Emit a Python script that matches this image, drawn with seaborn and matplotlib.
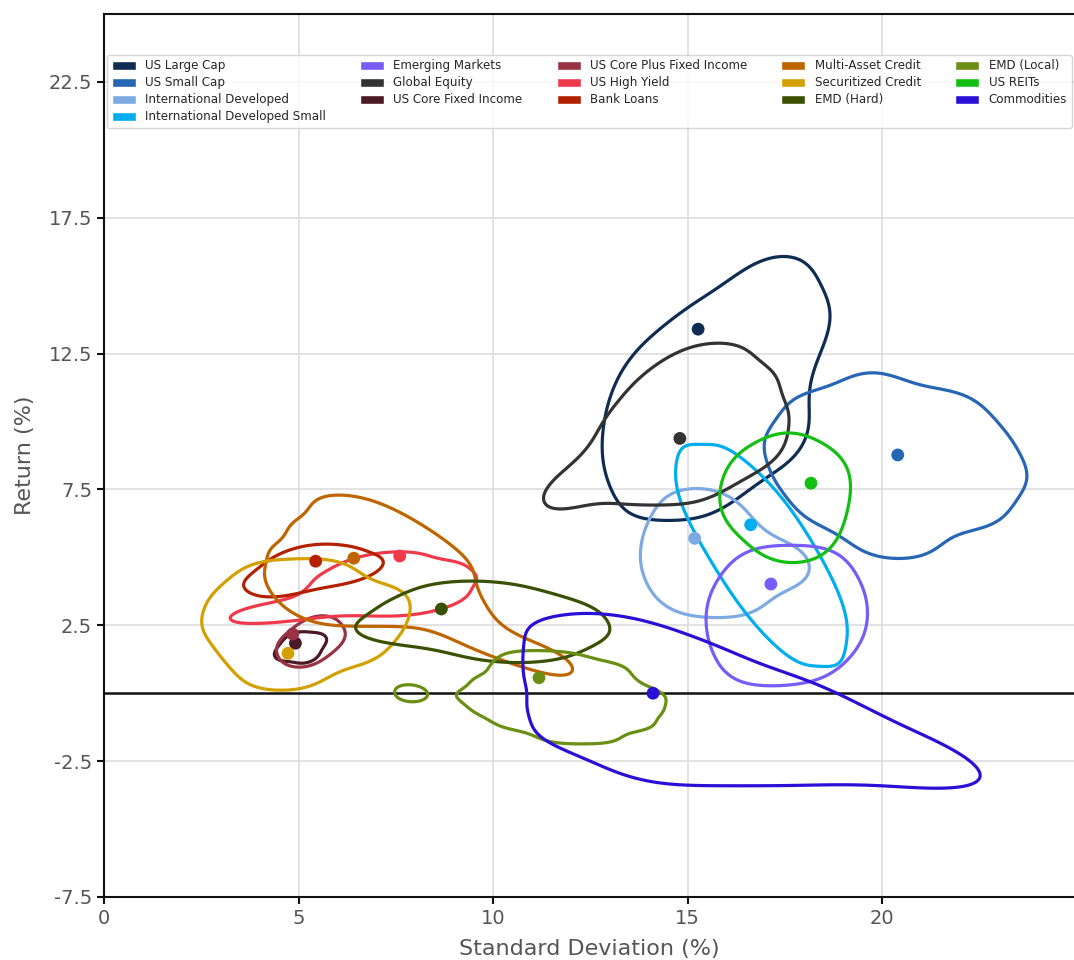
import numpy as np
import pandas as pd
import matplotlib
matplotlib.use("Agg")
import matplotlib.pyplot as plt
import matplotlib.patches as mpatches
import seaborn as sns

# Asset classes, colours and expected (standard deviation, return) in %
asset_names = [
    "US Large Cap", "US Small Cap", "International Developed",
    "International Developed Small", "Emerging Markets", "Global Equity",
    "US Core Fixed Income", "US Core Plus Fixed Income", "US High Yield",
    "Bank Loans", "Multi-Asset Credit", "Securitized Credit", "EMD (Hard)",
    "EMD (Local)", "US REITs", "Commodities",
]
asset_colors = [
    "#0f2d52", "#2766b4", "#7eaae3", "#00aeef", "#775cf7", "#333333",
    "#4b1a24", "#993344", "#f0394b", "#b32100", "#bf6500", "#d4a000",
    "#3a5003", "#6a8f12", "#12bf12", "#2a10d6",
]
expected_sd = [15.27, 20.40, 15.18, 16.62, 17.14, 14.80, 4.92, 4.85,
               7.60, 5.44, 6.42, 4.73, 8.67, 11.18, 18.17, 14.11]
expected_ret = [13.40, 8.77, 5.70, 6.20, 4.02, 9.38, 1.84, 2.18,
                5.05, 4.86, 4.97, 1.47, 3.10, 0.57, 7.73, 0.00]

# Scenario outcomes (sd %, return %) per asset class
us_large_cap = [
    (13.9, 7.6), (14.85, 7.6), (15.8, 7.6),
    (13.5, 8.95), (14.5, 8.95), (15.5, 8.95), (16.5, 8.95), (17.7, 9.2),
    (13.6, 10.45), (14.5, 10.45), (15.4, 10.45), (16.3, 10.45), (17.2, 10.45),
    (13.9, 11.95), (14.75, 11.95), (15.6, 11.95), (16.45, 11.95), (17.3, 11.95),
    (15.2, 13.45), (16.2, 13.45), (17.2, 13.45), (18.2, 13.45),
    (16.7, 14.95), (17.6, 14.95),
]
us_small_cap = [
    (19.8, 5.6), (20.9, 5.6),
    (18.4, 6.8), (19.5, 6.8), (20.6, 6.8), (21.7, 6.8), (22.6, 6.8),
    (17.8, 8.0), (18.9, 8.0), (20.0, 8.0), (21.1, 8.0), (22.2, 8.0), (23.2, 8.0),
    (17.5, 9.2), (18.6, 9.2), (19.7, 9.2), (20.8, 9.2), (21.8, 9.2), (22.7, 9.2),
    (18.1, 10.4), (19.1, 10.4), (20.1, 10.4), (21.1, 10.4), (22.0, 10.4),
    (19.8, 11.3),
]
intl_developed = [
    (14.8, 3.7), (15.6, 3.7), (16.35, 3.7),
    (14.5, 4.7), (15.3, 4.7), (16.1, 4.7), (16.9, 4.7), (17.6, 4.75),
    (14.6, 5.7), (15.4, 5.7), (16.2, 5.7),
    (14.95, 6.7), (15.75, 6.7),
]
intl_developed_small = [
    (15.35, 8.1), (16.2, 8.1),
    (15.3, 6.9), (16.2, 6.9), (17.1, 6.9),
    (15.8, 5.7), (16.7, 5.7), (17.6, 5.7),
    (16.3, 4.5), (17.2, 4.5), (18.1, 4.5),
    (16.8, 3.3), (17.7, 3.3), (18.5, 3.3),
    (17.6, 2.1), (18.4, 2.1),
]
emerging_markets = [
    (16.5, 1.2), (17.4, 1.2), (18.3, 1.35),
    (16.2, 2.3), (17.1, 2.3), (18.0, 2.3), (18.9, 2.3),
    (16.2, 3.4), (17.1, 3.4), (18.0, 3.4), (18.9, 3.4),
    (16.7, 4.5), (17.6, 4.5), (18.5, 4.5),
]
global_equity = [
    (13.6, 7.7), (14.55, 7.7), (15.5, 7.7),
    (13.1, 8.8), (14.05, 8.8), (15.0, 8.8), (15.95, 8.8), (16.9, 8.8),
    (13.4, 10.0), (14.3, 10.0), (15.2, 10.0), (16.1, 10.0), (17.0, 10.0),
    (14.1, 11.2), (15.0, 11.2), (15.9, 11.2), (16.7, 11.2),
    (15.0, 12.1), (15.9, 12.1),
    (11.75, 7.35), (12.6, 7.9),
]
us_core_fixed_income = [
    (4.7, 1.5), (5.05, 1.7), (5.4, 1.9), (4.95, 1.95), (5.2, 1.4),
]
us_core_plus_fixed_income = [
    (4.85, 1.85), (5.8, 1.95), (5.3, 2.35), (5.35, 1.45), (5.0, 1.5), (5.6, 2.3),
]
us_high_yield = [
    (6.3, 3.25), (7.2, 3.2), (8.1, 3.2), (8.6, 3.5),
    (5.8, 3.75), (6.7, 3.75), (7.6, 3.75), (8.4, 3.9), (8.75, 4.1),
    (6.1, 4.3), (7.0, 4.35), (7.9, 4.4), (8.5, 4.5),
    (6.8, 4.85), (7.6, 4.85),
    (3.8, 2.9), (4.6, 3.0), (5.3, 3.1),
]
bank_loans = [
    (4.3, 4.2), (4.8, 4.7), (5.4, 4.3), (5.9, 5.0),
    (6.4, 4.7), (4.6, 3.9), (5.2, 5.1), (6.2, 4.4),
]
multi_asset_credit = [
    (5.2, 3.1), (6.2, 3.1), (7.2, 3.1), (8.2, 3.1), (9.2, 3.1),
    (4.8, 4.0), (5.8, 4.0), (6.8, 4.0), (7.8, 4.0), (8.8, 4.0),
    (4.9, 4.9), (5.9, 4.9), (6.9, 4.9), (7.9, 4.9), (8.8, 4.9),
    (5.45, 5.75), (6.3, 5.8), (7.1, 5.8), (7.9, 5.8),
    (6.1, 6.6), (6.9, 6.6),
    (9.4, 2.2), (10.5, 1.6), (11.6, 1.1),
]
securitized_credit = [
    (4.1, 0.7), (5.1, 0.7),
    (3.6, 1.6), (4.6, 1.6), (5.6, 1.6), (6.6, 1.6),
    (3.1, 2.5), (4.1, 2.5), (5.1, 2.5), (6.1, 2.5), (7.1, 2.5),
    (3.3, 3.4), (4.3, 3.4), (5.3, 3.4), (6.3, 3.4), (7.3, 3.4),
    (4.0, 4.3), (5.0, 4.3), (5.9, 4.3),
]
emd_hard = [
    (9.9, 1.65), (11.1, 1.65),
    (7.3, 2.3), (8.5, 2.3), (9.7, 2.3), (10.9, 2.3), (12.0, 2.3),
    (8.1, 3.0), (9.3, 3.0), (10.5, 3.0), (11.7, 3.0),
    (9.0, 3.6), (10.2, 3.6),
]
emd_local = [
    (11.5, -1.6), (12.2, -1.6), (12.9, -1.6),
    (10.4, -1.1), (11.1, -1.1), (11.8, -1.1), (12.5, -1.1), (13.2, -1.1), (13.75, -1.1),
    (9.8, -0.6), (10.5, -0.6), (11.2, -0.6), (11.9, -0.6), (12.6, -0.6), (13.3, -0.6),
    (14.0, -0.6),
    (9.4, -0.1), (10.1, -0.1), (10.8, -0.1), (11.5, -0.1), (12.2, -0.1), (12.9, -0.1),
    (13.6, -0.1), (14.0, -0.1),
    (9.8, 0.4), (10.5, 0.4), (11.2, 0.4), (11.9, 0.4), (12.6, 0.4), (13.3, 0.4),
    (10.3, 0.9), (11.0, 0.9), (11.7, 0.9), (12.4, 0.9), (13.1, 0.9),
    (10.6, 1.3), (11.3, 1.3), (12.0, 1.25),
    (7.87, -0.2), (7.87, 0.2),
]
us_reits = [
    (17.3, 5.9), (18.1, 5.9),
    (16.5, 6.9), (17.4, 6.9), (18.3, 6.9),
    (16.7, 8.0), (17.6, 8.0), (18.5, 8.0),
    (17.6, 8.55),
]
commodities = [
    (13.6, -2.9), (14.9, -2.9), (16.2, -2.9), (17.5, -2.9), (18.8, -2.85),
    (20.1, -2.85), (21.0, -2.8), (21.7, -2.75),
    (11.65, -1.7), (13.1, -1.8), (14.4, -1.8), (15.7, -1.8), (17.0, -1.8),
    (18.3, -1.8), (19.6, -1.8), (20.8, -1.9),
    (11.5, -0.7), (12.9, -0.7), (14.2, -0.7), (15.5, -0.7), (16.8, -0.7),
    (18.1, -0.7), (19.3, -0.9),
    (11.5, 0.3), (12.9, 0.4), (14.2, 0.4), (15.5, 0.4), (16.8, 0.4), (17.9, 0.1),
    (11.7, 1.1), (12.3, 1.5), (13.3, 1.5), (14.4, 1.5), (15.6, 1.4),
    (11.9, 2.1), (12.8, 2.35), (13.8, 2.3),
]

scenario_sets = [
    us_large_cap, us_small_cap, intl_developed, intl_developed_small,
    emerging_markets, global_equity, us_core_fixed_income,
    us_core_plus_fixed_income, us_high_yield, bank_loans, multi_asset_credit,
    securitized_credit, emd_hard, emd_local, us_reits, commodities,
]
# KDE bandwidth multiplier for each asset class
bandwidths = [0.92, 0.78, 1.04, 0.95, 1.05, 0.81, 1.2, 1.2,
              0.81, 1.08, 0.70, 0.85, 1.05, 0.60, 1.25, 0.68]
contour_level = [0.15]

sns.set_theme(style="ticks")
plt.rcParams["font.family"] = ["DejaVu Sans"]

fig = plt.figure(figsize=(10.74, 9.6), dpi=100)
ax = fig.add_axes([104 / 1074, 63 / 960, 970 / 1074, 883 / 960])

ax.grid(True, color="#dddddd", linewidth=1.2)
ax.set_axisbelow(True)
ax.axhline(0, color="#111111", linewidth=1.8, zorder=1.5)

for name, color, pts, bw in zip(asset_names, asset_colors, scenario_sets, bandwidths):
    df = pd.DataFrame(pts, columns=["sd", "ret"])
    sns.kdeplot(data=df, x="sd", y="ret", levels=contour_level, bw_adjust=bw,
                color=color, linewidths=2.3, ax=ax)

sns.scatterplot(x=expected_sd, y=expected_ret, hue=asset_names,
                palette=dict(zip(asset_names, asset_colors)), s=85,
                edgecolor="none", legend=False, ax=ax, zorder=5)

ax.set_xlim(0, 24.93)
ax.set_ylim(-7.5, 25)
ax.set_xticks([0, 5, 10, 15, 20])
ax.set_yticks(np.arange(-7.5, 25, 5))
ax.set_yticklabels([f"{v:.1f}" for v in np.arange(-7.5, 25, 5)])

for side in ["left", "bottom", "top"]:
    ax.spines[side].set_color("#111111")
    ax.spines[side].set_linewidth(1.5)
ax.spines["right"].set_visible(False)
ax.tick_params(direction="out", length=5, width=1.5, color="#111111",
               labelsize=14, labelcolor="#555555")
ax.set_xlabel("Standard Deviation (%)", fontsize=16, color="#555555", labelpad=8)
ax.set_ylabel("Return (%)", fontsize=16, color="#555555", labelpad=10)

handles = [mpatches.Patch(facecolor=c, label=n) for n, c in zip(asset_names, asset_colors)]
ax.legend(handles=handles, ncol=5, loc="upper left", bbox_to_anchor=(0.003, 0.954),
          borderaxespad=0, fontsize=8.6, columnspacing=2.85, labelspacing=0.33,
          handlelength=2.0, handleheight=0.8, frameon=True, edgecolor="#cccccc",
          fancybox=True)

fig.savefig("out.png", dpi=100)
